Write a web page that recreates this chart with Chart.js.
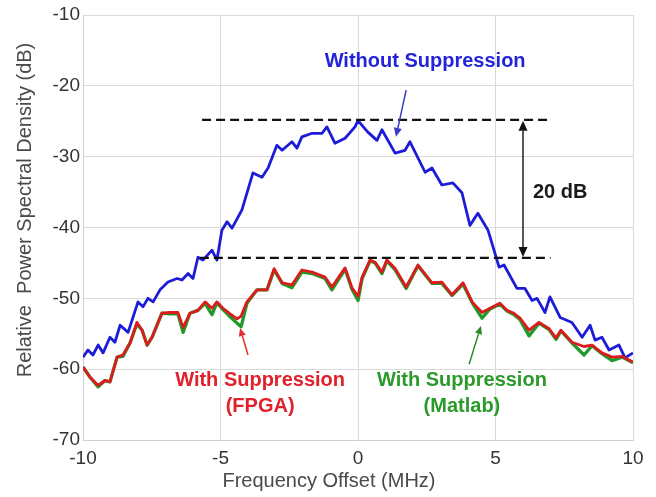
<!DOCTYPE html>
<html>
<head>
<meta charset="utf-8">
<script src="https://cdn.jsdelivr.net/npm/chart.js@4/dist/chart.umd.min.js"></script>
<style>
  html, body { margin: 0; padding: 0; background: #ffffff; }
  #c { display: block; }
</style>
</head>
<body>
<canvas id="c" width="656" height="497"></canvas>
<script>
// ---- Data ----
const xTicks = [-10, -5, 0, 5, 10];
const yTicks = [-70, -60, -50, -40, -30, -20, -10];

// Without Suppression (blue)
const blueFreq = [-10, -9.82, -9.64, -9.45, -9.27, -9.02, -8.84, -8.65, -8.36, -8.0, -7.82, -7.64, -7.45, -7.2, -6.91, -6.58, -6.4, -6.18, -6.0, -5.82, -5.64, -5.31, -5.13, -4.95, -4.76, -4.58, -4.22, -3.82, -3.49, -3.27, -2.95, -2.76, -2.4, -2.22, -2.04, -1.67, -1.31, -1.13, -0.84, -0.47, -0.11, 0, 0.35, 0.69, 0.87, 1.35, 1.71, 1.89, 2.44, 2.69, 3.05, 3.45, 3.78, 4.07, 4.36, 4.73, 5.13, 5.31, 5.78, 6.07, 6.33, 6.51, 6.8, 6.98, 7.35, 7.78, 8.15, 8.44, 8.62, 8.87, 9.13, 9.49, 9.71, 10];
const bluePsd = [-58.3, -57.3, -58, -56.6, -57.7, -55.5, -56.2, -53.8, -54.8, -50.5, -51.2, -50, -50.5, -48.8, -47.7, -47.2, -47.4, -46.5, -47.2, -44.2, -44.6, -43.2, -44.6, -40.4, -39.2, -40.1, -37.5, -32.3, -32.9, -31.6, -28.4, -29.1, -27.9, -28.8, -27.2, -26.7, -26.7, -25.8, -28.1, -27.4, -25.8, -24.9, -26.5, -27.7, -26.2, -29.5, -29.1, -27.9, -32.2, -31.6, -34, -33.7, -35.1, -39.7, -38, -40.4, -45.6, -45.3, -48.6, -48.6, -50.3, -50, -52, -49.8, -52.7, -53.4, -55.5, -53.8, -55.9, -55.5, -57.3, -56.6, -58.4, -57.7];

// With Suppression (FPGA) (red)
const redFreq = [-10, -9.75, -9.45, -9.2, -9.02, -8.76, -8.55, -8.29, -8.04, -7.85, -7.67, -7.49, -7.13, -6.84, -6.55, -6.36, -6.11, -5.82, -5.56, -5.31, -5.13, -4.91, -4.65, -4.4, -4.25, -4.04, -3.67, -3.31, -3.05, -2.76, -2.4, -2.04, -1.67, -1.2, -0.95, -0.47, -0.22, 0, 0.15, 0.44, 0.62, 0.87, 1.05, 1.35, 1.75, 2.18, 2.69, 3.05, 3.42, 3.82, 4.15, 4.51, 4.8, 5.16, 5.42, 5.67, 5.89, 6.22, 6.58, 6.95, 7.2, 7.38, 7.78, 8.22, 8.51, 8.87, 9.24, 9.6, 10];
const redPsd = [-59.7, -61.1, -62.3, -61.6, -61.8, -58.3, -58, -56.3, -53.4, -54.5, -56.6, -55.5, -52.1, -52, -52, -54.1, -52.1, -51.7, -50.5, -51.4, -50.5, -51.4, -52.2, -52.9, -52.5, -50.5, -48.8, -48.8, -45.8, -47.8, -48.1, -46, -46.3, -47, -48.4, -45.7, -48.5, -49.7, -47, -44.6, -44.9, -46.3, -44.6, -45.8, -48.4, -45.3, -47.8, -47.7, -49.5, -47.8, -50.5, -52, -51.4, -50.7, -51.7, -52.1, -52.8, -54.5, -53.4, -54.3, -55.6, -54.5, -56.2, -56.8, -56.6, -57.7, -58.3, -58.2, -59];

// With Suppression (Matlab) (green)
const greenFreq = [-10, -9.75, -9.45, -9.2, -9.02, -8.76, -8.55, -8.29, -8.04, -7.85, -7.67, -7.49, -7.13, -6.84, -6.55, -6.36, -6.11, -5.82, -5.56, -5.31, -5.13, -4.91, -4.65, -4.4, -4.25, -4.04, -3.67, -3.31, -3.05, -2.76, -2.4, -2.04, -1.67, -1.2, -0.95, -0.47, -0.22, 0, 0.15, 0.44, 0.62, 0.87, 1.05, 1.35, 1.75, 2.18, 2.69, 3.05, 3.42, 3.82, 4.15, 4.51, 4.8, 5.16, 5.42, 5.67, 5.89, 6.22, 6.58, 6.95, 7.2, 7.38, 7.78, 8.22, 8.51, 8.87, 9.24, 9.6, 10];
const greenPsd = [-59.7, -61.1, -62.5, -61.6, -61.8, -58.3, -58.2, -56.3, -53.6, -54.5, -56.6, -55.5, -52.1, -52.2, -52.2, -54.8, -52.1, -51.7, -50.7, -52.3, -50.6, -51.6, -52.6, -53.5, -54, -50.7, -48.8, -48.8, -46, -47.9, -48.5, -46.3, -46.5, -47.2, -48.8, -45.9, -48.7, -50.3, -47.2, -44.7, -45, -46.5, -44.7, -46, -48.6, -45.4, -47.9, -47.9, -49.6, -48, -50.6, -52.8, -51.5, -50.8, -51.8, -52.3, -53, -55.3, -53.5, -54.4, -55.8, -54.6, -56.3, -58, -56.7, -57.8, -58.8, -58.3, -59.1];

// Reference levels and annotations (data units)
const peakLevel = -24.8;
const suppressedLevel = -44.3;
const levelSpanTop = [-5.67, 6.9];
const levelSpanBottom = [-5.75, 7.0];
const dbArrowX = 6.0;
const dbLabel = "20 dB";

const FONT = "'Liberation Sans', Arial, Helvetica, sans-serif";

function pts(xs, ys) { return xs.map((x, i) => ({ x: x, y: ys[i] })); }

function arrow(ctx, x1, y1, x2, y2, color, lw, head) {
  ctx.save();
  ctx.strokeStyle = color; ctx.fillStyle = color; ctx.lineWidth = lw;
  const a = Math.atan2(y2 - y1, x2 - x1);
  const bx = x2 - head * Math.cos(a), by = y2 - head * Math.sin(a);
  ctx.beginPath(); ctx.moveTo(x1, y1); ctx.lineTo(bx, by); ctx.stroke();
  ctx.beginPath();
  ctx.moveTo(x2, y2);
  ctx.lineTo(bx + head * 0.45 * Math.sin(a), by - head * 0.45 * Math.cos(a));
  ctx.lineTo(bx - head * 0.45 * Math.sin(a), by + head * 0.45 * Math.cos(a));
  ctx.closePath(); ctx.fill();
  ctx.restore();
}

const annotations = {
  id: 'annotations',
  afterDatasetsDraw(chart) {
    const ctx = chart.ctx;
    const xs = chart.scales.x, ys = chart.scales.y;
    const X = v => xs.getPixelForValue(v), Y = v => ys.getPixelForValue(v);

    // dashed reference lines
    ctx.save();
    ctx.strokeStyle = '#111111';
    ctx.lineWidth = 2.3;
    ctx.setLineDash([9, 5]);
    ctx.beginPath();
    ctx.moveTo(X(levelSpanTop[0]), Y(peakLevel)); ctx.lineTo(X(levelSpanTop[1]), Y(peakLevel));
    ctx.moveTo(X(levelSpanBottom[0]), Y(suppressedLevel)); ctx.lineTo(X(levelSpanBottom[1]), Y(suppressedLevel));
    ctx.stroke();
    ctx.restore();

    // double arrow
    const ax = X(dbArrowX), ay1 = Y(peakLevel), ay2 = Y(suppressedLevel);
    const my = (ay1 + ay2) / 2;
    arrow(ctx, ax, my, ax, ay1 + 1, '#111111', 1.4, 10);
    arrow(ctx, ax, my, ax, ay2 - 1, '#111111', 1.4, 10);

    ctx.save();
    ctx.textBaseline = 'middle';
    ctx.font = 'bold 20px ' + FONT;
    ctx.fillStyle = '#1a1a1a';
    ctx.textAlign = 'left';
    ctx.fillText(dbLabel, X(6.36), Y(-35));

    ctx.textAlign = 'center';
    ctx.fillStyle = '#2323d8';
    ctx.fillText('Without Suppression', X(2.44), Y(-16.6));

    ctx.fillStyle = '#e0202a';
    ctx.fillText('With Suppression', X(-3.56), Y(-61.6));
    ctx.fillText('(FPGA)', X(-3.56), Y(-65.3));

    ctx.fillStyle = '#2a9a2a';
    ctx.fillText('With Suppression', X(3.78), Y(-61.6));
    ctx.fillText('(Matlab)', X(3.78), Y(-65.3));
    ctx.restore();

    arrow(ctx, X(1.75), Y(-20.6), X(1.38), Y(-27.2), '#3a3ac8', 1.5, 9);
    arrow(ctx, X(-4.0), Y(-58.0), X(-4.29), Y(-54.2), '#e03030', 1.5, 8);
    arrow(ctx, X(4.04), Y(-59.3), X(4.47), Y(-53.9), '#2a8a2a', 1.5, 8);

    // axis titles
    ctx.save();
    ctx.fillStyle = '#4a4a4a';
    ctx.font = '20px ' + FONT;
    ctx.textAlign = 'center';
    ctx.textBaseline = 'middle';
    ctx.fillText('Frequency Offset (MHz)', 329, 481);
    ctx.translate(25, 210);
    ctx.rotate(-Math.PI / 2);
    ctx.fillText('Relative  Power Spectral Density (dB)', 0, 0);
    ctx.restore();
  }
};

new Chart(document.getElementById('c'), {
  type: 'line',
  data: {
    datasets: [
      { label: 'With Suppression (FPGA)', data: pts(redFreq, redPsd), borderColor: '#dc1c1c', borderWidth: 2.8 },
      { label: 'With Suppression (Matlab)', data: pts(greenFreq, greenPsd), borderColor: '#1f9a2a', borderWidth: 3.3 },
      { label: 'Without Suppression', data: pts(blueFreq, bluePsd), borderColor: '#1c1cd8', borderWidth: 2.8 }
    ]
  },
  options: {
    responsive: false,
    animation: false,
    events: [],
    layout: { padding: { top: 15, right: 23, left: 0, bottom: 0 } },
    elements: { point: { radius: 0 }, line: { tension: 0, fill: false, borderJoinStyle: 'round' } },
    plugins: { legend: { display: false }, tooltip: { enabled: false } },
    scales: {
      x: {
        type: 'linear', min: -10, max: 10,
        afterBuildTicks: s => { s.ticks = xTicks.map(v => ({ value: v })); },
        afterFit: s => { s.height = 57; },
        grid: { color: '#dadada', lineWidth: 1, drawTicks: false },
        border: { color: '#cfcfcf' },
        ticks: { color: '#333333', font: { family: FONT, size: 19 }, padding: 7, maxRotation: 0 }
      },
      y: {
        type: 'linear', min: -70, max: -10,
        afterBuildTicks: s => { s.ticks = yTicks.map(v => ({ value: v })); },
        afterFit: s => { s.width = 83; },
        grid: { color: '#dadada', lineWidth: 1, drawTicks: false },
        border: { color: '#cfcfcf' },
        ticks: { color: '#333333', font: { family: FONT, size: 19 }, padding: 3 }
      }
    }
  },
  plugins: [annotations]
});
</script>
</body>
</html>
